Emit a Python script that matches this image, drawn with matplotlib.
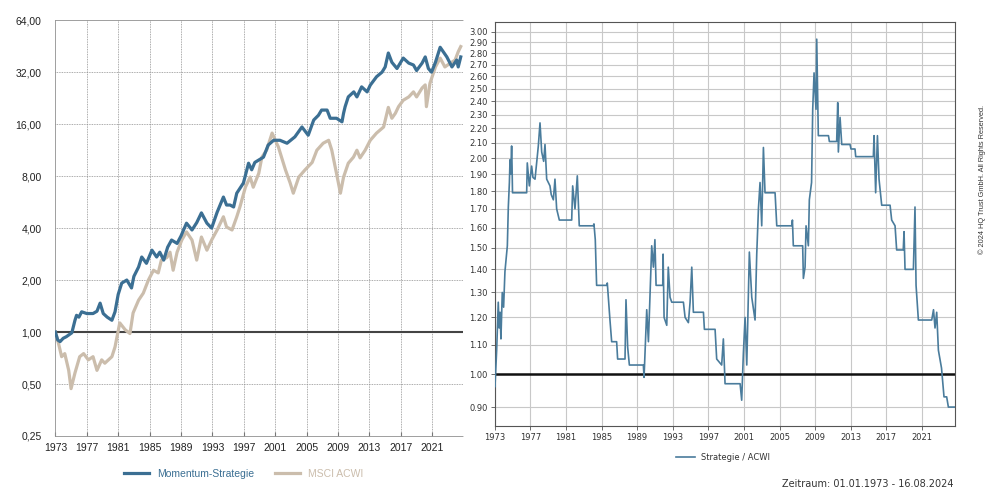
import matplotlib

matplotlib.use("Agg")

import matplotlib.pyplot as plt
from matplotlib.ticker import FixedLocator, FixedFormatter, NullLocator


# Momentum-Strategie vs. MSCI ACWI, indexiert (1,00 = 01.01.1973)
MOM_YEARS = [
    1973.0, 1973.3, 1973.6, 1974.0, 1974.4, 1975.1, 1975.5, 1975.7, 1976.0, 1976.35,
    1977.0, 1977.8, 1978.3, 1978.7, 1979.1, 1979.6, 1980.2, 1980.6, 1981.0, 1981.45,
    1982.1, 1982.7, 1983.0, 1983.6, 1984.0, 1984.6, 1985.3, 1985.9, 1986.3, 1986.8,
    1987.3, 1987.8, 1988.5, 1989.0, 1989.7, 1990.4, 1991.0, 1991.6, 1992.3, 1992.9,
    1993.6, 1994.4, 1994.8, 1995.25, 1995.7, 1996.1, 1996.95, 1997.6, 1998.0, 1998.4,
    1999.5, 2000.1, 2000.8, 2001.6, 2002.5, 2003.5, 2004.4, 2005.2, 2005.9, 2006.5,
    2006.9, 2007.6, 2008.0, 2008.8, 2009.5, 2009.7, 2009.9, 2010.3, 2011.0, 2011.4,
    2012.0, 2012.7, 2013.1, 2013.9, 2014.6, 2015.0, 2015.4, 2015.85, 2016.5, 2017.3,
    2018.0, 2018.6, 2019.0, 2019.7, 2020.1, 2020.5, 2020.9, 2021.4, 2022.0, 2022.85,
    2023.5, 2024.1, 2024.3, 2024.62,
]
MOM_VALUES = [
    1.0, 0.90, 0.88, 0.92, 0.94, 0.99, 1.17, 1.25, 1.22, 1.31,
    1.28, 1.28, 1.32, 1.47, 1.28, 1.22, 1.17, 1.31, 1.65, 1.92,
    2.0, 1.80, 2.1, 2.38, 2.72, 2.50, 2.98, 2.72, 2.9, 2.61,
    3.1, 3.41, 3.26, 3.6, 4.27, 3.9, 4.3, 4.9, 4.27, 4.0,
    4.94, 6.05, 5.44, 5.44, 5.3, 6.37, 7.3, 9.5, 8.7, 9.6,
    10.3, 12.1, 12.9, 12.9, 12.4, 13.5, 15.4, 13.8, 16.9, 18.0,
    19.3, 19.3, 17.3, 17.3, 16.5, 18.5, 20.2, 23.0, 24.6, 23.0,
    26.3, 24.6, 26.9, 30.1, 32.0, 34.3, 41.3, 36.5, 33.6, 38.6,
    36.1, 35.2, 32.7, 36.1, 39.2, 33.6, 32.0, 36.5, 44.6, 39.2,
    34.3, 37.6, 34.3, 39.2,
]

ACWI_YEARS = [
    1973.0, 1973.4, 1973.8, 1974.2, 1974.7, 1975.0, 1975.5, 1976.1, 1976.6, 1977.2,
    1977.8, 1978.3, 1978.9, 1979.3, 1980.2, 1980.6, 1981.2, 1981.9, 1982.5, 1982.9,
    1983.6, 1984.2, 1984.85, 1985.5, 1986.1, 1986.5, 1987.2, 1987.6, 1988.0, 1988.5,
    1989.1, 1989.7, 1990.4, 1991.0, 1991.6, 1992.3, 1992.9, 1993.6, 1994.4, 1994.8,
    1995.5, 1996.1, 1996.5, 1997.2, 1997.8, 1998.2, 1998.9, 1999.3, 1999.9, 2000.6,
    2001.0, 2001.4, 2001.8, 2002.3, 2002.9, 2003.3, 2004.0, 2004.8, 2005.7, 2006.3,
    2007.1, 2007.8, 2008.2, 2008.8, 2009.3, 2009.7, 2010.3, 2010.96, 2011.4, 2011.8,
    2012.45, 2013.1, 2013.9, 2014.8, 2015.4, 2015.85, 2016.3, 2016.7, 2017.3, 2018.0,
    2018.6, 2019.0, 2019.7, 2020.1, 2020.25, 2020.7, 2021.4, 2022.0, 2022.6, 2023.3,
    2023.9, 2024.3, 2024.62,
]
ACWI_VALUES = [
    1.0, 0.86, 0.72, 0.75, 0.60, 0.47, 0.58, 0.72, 0.75, 0.69,
    0.72, 0.60, 0.69, 0.66, 0.72, 0.82, 1.13, 1.03, 0.98, 1.29,
    1.53, 1.68, 2.0, 2.28, 2.2, 2.61, 2.7, 2.9, 2.28, 2.9,
    3.41, 3.8, 3.41, 2.61, 3.55, 2.98, 3.41, 3.9, 4.65, 4.06,
    3.9, 4.65, 5.3, 6.9, 7.9, 6.9, 8.3, 10.3, 11.3, 14.2,
    12.9, 11.8, 10.3, 8.7, 7.3, 6.37, 7.9, 8.7, 9.6, 11.3,
    12.4, 12.9, 11.3, 8.3, 6.37, 7.9, 9.5, 10.3, 11.3, 10.2,
    11.3, 12.9, 14.2, 15.4, 20.0, 17.3, 18.5, 20.2, 22.0, 23.0,
    24.6, 23.0, 25.9, 27.0, 20.2, 27.6, 34.3, 38.6, 34.3, 36.1,
    37.6, 42.0, 45.0,
]

# Relative Entwicklung Strategie / ACWI
REL_YEARS = [
    1973.0, 1973.03, 1973.22, 1973.4, 1973.5, 1973.6, 1973.7, 1973.85, 1974.0, 1974.15,
    1974.42, 1974.53, 1974.65, 1974.72, 1974.8, 1974.9, 1974.95, 1975.0, 1976.59, 1976.66,
    1976.89, 1977.15, 1977.3, 1977.53, 1977.9, 1978.09, 1978.28, 1978.5, 1978.65, 1978.84,
    1979.21, 1979.35, 1979.59, 1979.77, 1979.96, 1980.26, 1981.65, 1981.76, 1982.02, 1982.28,
    1982.5, 1984.08, 1984.15, 1984.3, 1984.45, 1985.58, 1985.65, 1985.95, 1986.14, 1986.7,
    1986.81, 1987.64, 1987.75, 1987.94, 1988.13, 1989.7, 1989.78, 1990.08, 1990.27, 1990.64,
    1990.83, 1991.0, 1991.13, 1991.88, 1991.92, 1992.03, 1992.33, 1992.5, 1992.7, 1992.89,
    1994.2, 1994.39, 1994.76, 1994.95, 1995.14, 1995.32, 1996.45, 1996.56, 1997.76, 1997.94,
    1998.5, 1998.69, 1998.88, 2000.57, 2000.75, 2000.94, 2001.13, 2001.32, 2001.61, 2001.88,
    2002.25, 2002.44, 2002.63, 2002.81, 2003.0, 2003.19, 2003.37, 2004.5, 2004.69, 2006.37,
    2006.45, 2006.55, 2007.6, 2007.68, 2007.87, 2007.98, 2008.24, 2008.35, 2008.6, 2008.73,
    2008.88, 2009.1, 2009.18, 2009.36, 2010.5, 2010.6, 2011.42, 2011.54, 2011.61, 2011.8,
    2011.99, 2012.92, 2013.03, 2013.48, 2013.56, 2015.54, 2015.62, 2015.8, 2016.0, 2016.18,
    2016.48, 2017.42, 2017.6, 2017.98, 2018.16, 2018.9, 2018.99, 2019.1, 2020.04, 2020.22,
    2020.34, 2020.6, 2022.1, 2022.3, 2022.47, 2022.66, 2022.85, 2023.2, 2023.48, 2023.78,
    2023.97, 2024.72,
]
REL_VALUES = [
    1.00, 0.96, 1.08, 1.26, 1.16, 1.22, 1.12, 1.30, 1.24, 1.39,
    1.51, 1.71, 1.85, 1.99, 1.90, 2.08, 1.95, 1.79, 1.79, 1.97,
    1.83, 1.95, 1.88, 1.87, 2.08, 2.24, 2.04, 1.98, 2.09, 1.87,
    1.83, 1.78, 1.75, 1.87, 1.70, 1.64, 1.64, 1.83, 1.70, 1.89,
    1.61, 1.61, 1.62, 1.54, 1.33, 1.33, 1.34, 1.19, 1.11, 1.11,
    1.05, 1.05, 1.27, 1.09, 1.03, 1.03, 0.99, 1.23, 1.11, 1.51,
    1.41, 1.54, 1.33, 1.33, 1.47, 1.20, 1.17, 1.41, 1.28, 1.26,
    1.26, 1.20, 1.18, 1.26, 1.41, 1.22, 1.22, 1.155, 1.155, 1.05,
    1.03, 1.12, 0.97, 0.97, 0.92, 1.07, 1.20, 1.03, 1.48, 1.28,
    1.19, 1.47, 1.70, 1.85, 1.61, 2.07, 1.79, 1.79, 1.61, 1.61,
    1.64, 1.51, 1.51, 1.36, 1.41, 1.61, 1.51, 1.75, 1.85, 2.34,
    2.63, 2.34, 2.93, 2.15, 2.15, 2.11, 2.11, 2.39, 2.04, 2.28,
    2.09, 2.09, 2.06, 2.06, 2.01, 2.01, 2.15, 1.79, 2.15, 1.87,
    1.72, 1.72, 1.64, 1.61, 1.49, 1.49, 1.58, 1.40, 1.40, 1.71,
    1.33, 1.19, 1.19, 1.23, 1.16, 1.22, 1.08, 1.02, 0.93, 0.93,
    0.90, 0.90,
]

YEAR_TICKS = list(range(1973, 2022, 4))
LEFT_Y_TICKS = [0.25, 0.5, 1, 2, 4, 8, 16, 32, 64]
LEFT_Y_LABELS = ["0,25", "0,50", "1,00", "2,00", "4,00", "8,00", "16,00", "32,00", "64,00"]
RIGHT_Y_TICKS = [round(0.9 + 0.1 * i, 2) for i in range(22)]

BLUE = "#3b6f93"
TAN = "#cbbdac"
REL_BLUE = "#4a7c9c"


def main() -> None:
    fig = plt.figure(figsize=(9.99, 4.98), dpi=100)

    # ---- left: cumulative performance, log scale ----
    ax1 = fig.add_axes([0.0554, 0.1245, 0.408, 0.835])
    ax1.set_yscale("log", base=2)
    ax1.set_xlim(1973, 2024.9)
    ax1.set_ylim(0.25, 64)

    for yr in YEAR_TICKS[1:]:
        ax1.axvline(yr, color="#8f8f8f", lw=0.6, ls=(0, (1, 1)), zorder=1)
    for val in LEFT_Y_TICKS[1:-1]:
        if val != 1:
            ax1.axhline(val, color="#8f8f8f", lw=0.6, ls=(0, (1, 1)), zorder=1)
    ax1.axhline(1, color="#444444", lw=1.5, zorder=2)

    ax1.plot(ACWI_YEARS, ACWI_VALUES, color=TAN, lw=2.3, label="MSCI ACWI", zorder=3)
    ax1.plot(MOM_YEARS, MOM_VALUES, color=BLUE, lw=2.3, label="Momentum-Strategie", zorder=4)

    ax1.yaxis.set_major_locator(FixedLocator(LEFT_Y_TICKS))
    ax1.yaxis.set_major_formatter(FixedFormatter(LEFT_Y_LABELS))
    ax1.yaxis.set_minor_locator(NullLocator())
    ax1.set_xticks(YEAR_TICKS)
    ax1.set_xticklabels([str(y) for y in YEAR_TICKS])
    ax1.tick_params(axis="y", length=0, pad=10, labelsize=7.5, labelcolor="#222222")
    ax1.tick_params(axis="x", direction="in", length=3, pad=5, labelsize=7.5,
                    labelcolor="#222222", color="#777777")
    for lab in ax1.get_xticklabels() + ax1.get_yticklabels():
        lab.set_family(["Liberation Sans", "DejaVu Sans"])
    for side in ("left", "top", "bottom"):
        ax1.spines[side].set_linestyle((0, (1, 1)))
        ax1.spines[side].set_color("#8f8f8f")
        ax1.spines[side].set_linewidth(0.6)
    ax1.spines["right"].set_visible(False)

    handles, labels = ax1.get_legend_handles_labels()
    fig.legend(handles[::-1], labels[::-1], loc="center", ncol=2,
               bbox_to_anchor=(0.244, 0.048), frameon=False,
               handlelength=2.4, handletextpad=0.75, columnspacing=2.0,
               prop={"family": ["Liberation Sans", "DejaVu Sans"], "size": 7.5},
               labelcolor="linecolor")

    # ---- right: relative performance ----
    ax2 = fig.add_axes([0.4952, 0.1446, 0.4608, 0.811])
    ax2.set_yscale("log")
    ax2.set_xlim(1973, 2024.72)
    ax2.set_ylim(0.847, 3.095)
    ax2.grid(True, color="#c8c8c8", lw=0.8, zorder=0)
    ax2.set_axisbelow(True)
    ax2.axhline(1.0, color="#111111", lw=1.8, zorder=2)
    ax2.plot(REL_YEARS, REL_VALUES, color=REL_BLUE, lw=1.2, label="Strategie / ACWI", zorder=3)

    ax2.yaxis.set_major_locator(FixedLocator(RIGHT_Y_TICKS))
    ax2.yaxis.set_major_formatter(FixedFormatter([f"{v:.2f}" for v in RIGHT_Y_TICKS]))
    ax2.yaxis.set_minor_locator(NullLocator())
    ax2.set_xticks(YEAR_TICKS)
    ax2.tick_params(labelsize=6, labelcolor="#333333", length=3, width=0.6,
                    color="#555555", pad=2)
    for spine in ax2.spines.values():
        spine.set_color("#555555")
        spine.set_linewidth(0.8)

    fig.legend(*ax2.get_legend_handles_labels(), loc="center",
               bbox_to_anchor=(0.724, 0.082), frameon=False, fontsize=6,
               handlelength=2.3, handletextpad=0.7, labelcolor="#333333")

    fig.text(0.954, 0.028, "Zeitraum: 01.01.1973 - 16.08.2024", ha="right", va="center",
             fontsize=7, color="#333333")
    fig.text(0.983, 0.64, "\u00a9 2024 HQ Trust GmbH. All Rights Reserved.", rotation=90,
             ha="center", va="center", fontsize=5.3, color="#333333",
             family=["Liberation Sans", "DejaVu Sans"])

    fig.savefig("out.png", dpi=100)
    plt.close(fig)


if __name__ == "__main__":
    main()
